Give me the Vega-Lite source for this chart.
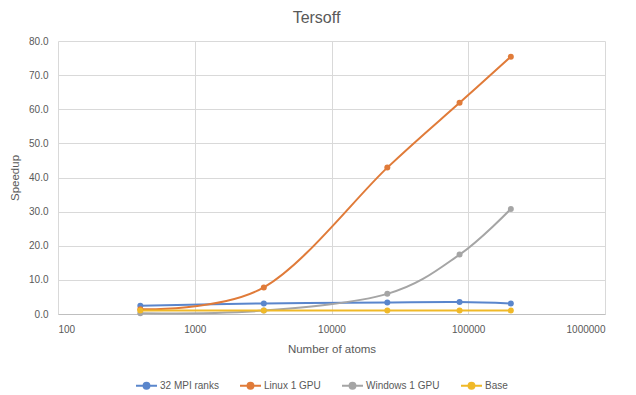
{
  "$schema": "https://vega.github.io/schema/vega-lite/v6.json",
  "width": 547,
  "height": 273,
  "autosize": {"type": "none"},
  "padding": {"left": 58, "top": 41, "right": 31, "bottom": 81},
  "background": "white",
  "config": {
    "view": {"stroke": null},
    "font": "Liberation Sans",
    "axis": {"labelColor": "#595959", "titleColor": "#595959", "labelFont": "Liberation Sans", "titleFont": "Liberation Sans", "titleFontWeight": "normal", "gridColor": "#d9d9d9", "gridWidth": 1}
  },
  "title": {"text": "Tersoff", "fontSize": 16, "font": "Liberation Sans", "fontWeight": "normal", "color": "#595959", "anchor": "middle", "offset": 10, "dx": -15},
  "data": {
    "values": [
      {"atoms": 400, "series": "32 MPI ranks", "speedup": 2.4},
      {"atoms": 3200, "series": "32 MPI ranks", "speedup": 3.1},
      {"atoms": 25600, "series": "32 MPI ranks", "speedup": 3.4},
      {"atoms": 86400, "series": "32 MPI ranks", "speedup": 3.5},
      {"atoms": 204800, "series": "32 MPI ranks", "speedup": 3.1},
      {"atoms": 400, "series": "Linux 1 GPU", "speedup": 1.4},
      {"atoms": 3200, "series": "Linux 1 GPU", "speedup": 7.8},
      {"atoms": 25600, "series": "Linux 1 GPU", "speedup": 42.9},
      {"atoms": 86400, "series": "Linux 1 GPU", "speedup": 61.9},
      {"atoms": 204800, "series": "Linux 1 GPU", "speedup": 75.4},
      {"atoms": 400, "series": "Windows 1 GPU", "speedup": 0.2},
      {"atoms": 3200, "series": "Windows 1 GPU", "speedup": 1.0},
      {"atoms": 25600, "series": "Windows 1 GPU", "speedup": 5.9},
      {"atoms": 86400, "series": "Windows 1 GPU", "speedup": 17.4},
      {"atoms": 204800, "series": "Windows 1 GPU", "speedup": 30.8},
      {"atoms": 400, "series": "Base", "speedup": 1.0},
      {"atoms": 3200, "series": "Base", "speedup": 1.0},
      {"atoms": 25600, "series": "Base", "speedup": 1.0},
      {"atoms": 86400, "series": "Base", "speedup": 1.0},
      {"atoms": 204800, "series": "Base", "speedup": 1.0}
    ]
  },
  "encoding": {
    "x": {
      "field": "atoms", "type": "quantitative",
      "scale": {"type": "log", "domain": [100, 1000000], "nice": false},
      "axis": {"title": "Number of atoms", "values": [100, 1000, 10000, 100000, 1000000], "format": "d", "labelFontSize": 10, "titleFontSize": 11.5, "tickSize": 0, "ticks": false, "labelPadding": 10, "titlePadding": 9, "domainColor": "#bfbfbf", "domainWidth": 1.2, "grid": true}
    },
    "y": {
      "field": "speedup", "type": "quantitative",
      "scale": {"domain": [0, 80], "nice": false},
      "axis": {"title": "Speedup", "values": [0, 10, 20, 30, 40, 50, 60, 70, 80], "format": ".1f", "labelFontSize": 10, "titleFontSize": 11.5, "tickSize": 0, "ticks": false, "domain": false, "labelPadding": 10, "titlePadding": 8, "grid": true}
    },
    "color": {
      "field": "series", "type": "nominal",
      "scale": {"domain": ["32 MPI ranks", "Linux 1 GPU", "Windows 1 GPU", "Base"], "range": ["#5A86CC", "#E07B39", "#A5A5A5", "#F0B928"]},
      "legend": {
        "title": null, "orient": "none", "direction": "horizontal", "legendX": 77, "legendY": 333,
        "symbolType": "M-1,0H1M-0.28,0A0.28,0.28,0,1,1,0.28,0A0.28,0.28,0,1,1,-0.28,0Z",
        "symbolSize": 441, "symbolStrokeWidth": 2, "labelFontSize": 10, "labelColor": "#595959", "labelOffset": 2, "columnPadding": 17,
        "encode": {"symbols": {"update": {"fill": {"scale": "color", "field": "value"}, "stroke": {"scale": "color", "field": "value"}, "opacity": {"value": 1}}}}
      }
    }
  },
  "layer": [
    {"mark": {"type": "line", "interpolate": "cardinal", "strokeWidth": 2}},
    {"mark": {"type": "point", "filled": true, "size": 36, "opacity": 1}}
  ]
}
